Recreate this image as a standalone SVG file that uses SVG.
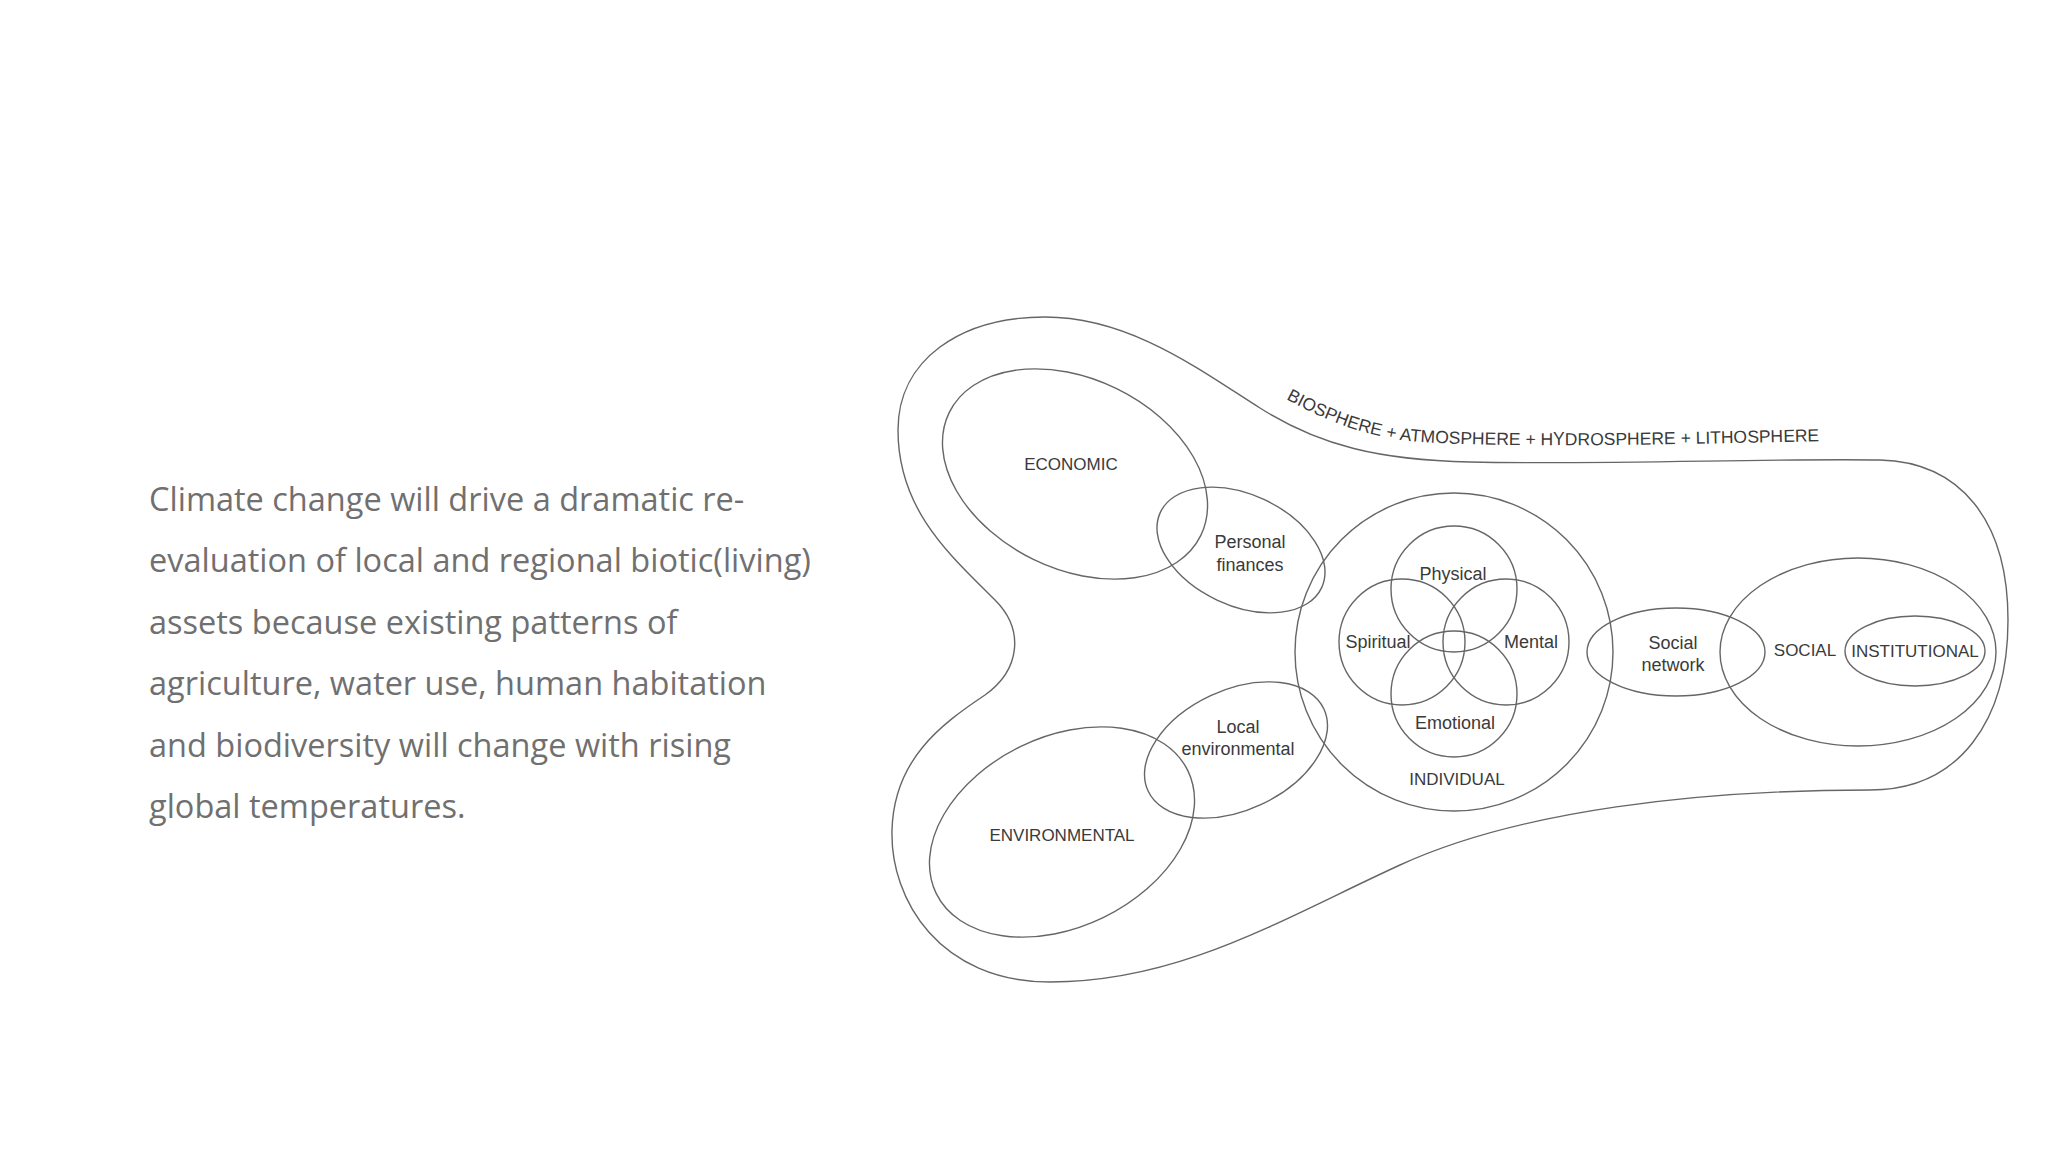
<svg xmlns="http://www.w3.org/2000/svg" width="2048" height="1152" viewBox="0 0 2048 1152">
<defs>
<style>
.para{font-family:"Open Sans","Noto Sans",sans-serif;font-size:32.5px;fill:#707070}
.ln{fill:none;stroke:#666;stroke-width:1.4}
.cap{font-family:"Liberation Sans",Arial,sans-serif;font-size:17px;fill:#3a3a3a;text-anchor:middle}
.bio{font-family:"Liberation Sans",Arial,sans-serif;font-size:17.5px;fill:#3a3a3a}
.lc{font-family:"Liberation Sans",Arial,sans-serif;font-size:18px;fill:#3a3a3a;text-anchor:middle}
</style>
<path id="bioPath" d="M 1286 399 C 1320 417, 1360 437, 1420 442 C 1500 447, 1620 446, 1830 441"/>
</defs>
<rect width="2048" height="1152" fill="#fff"/>
<g id="paragraph" class="para">
<text x="149" y="511">Climate change will drive a dramatic re-</text>
<text x="149" y="572">evaluation of local and regional biotic(living)</text>
<text x="149" y="634">assets because existing patterns of</text>
<text x="149" y="695">agriculture, water use, human habitation</text>
<text x="149" y="757">and biodiversity will change with rising</text>
<text x="149" y="818">global temperatures.</text>
</g>
<g id="biosphere">
<path class="ln" d="M 1045 317 C 1130 317, 1200 370, 1260 408 C 1320 446, 1380 460, 1470 462 C 1600 465, 1780 458, 1880 460 C 1960 462, 2008 520, 2008 620 C 2008 720, 1960 790, 1870 790 C 1700 790, 1520 810, 1400 865 C 1280 920, 1180 982, 1050 982 C 940 982, 890 900, 892 830 C 894 760, 940 725, 985 695 C 1020 670, 1025 630, 995 600 C 950 555, 898 510, 898 430 C 898 360, 960 317, 1045 317 Z"/>
<text class="bio"><textPath href="#bioPath">BIOSPHERE + ATMOSPHERE + HYDROSPHERE + LITHOSPHERE</textPath></text>
</g>
<g id="economic">
<ellipse class="ln" cx="1075" cy="474" rx="140" ry="95" transform="rotate(26 1075 474)"/>
<text class="cap" x="1071" y="470">ECONOMIC</text>
</g>
<g id="personal-finances">
<ellipse class="ln" cx="1241" cy="550" rx="89" ry="55.5" transform="rotate(25 1241 550)"/>
<text class="lc" x="1250" y="548">Personal</text>
<text class="lc" x="1250" y="571">finances</text>
</g>
<g id="environmental">
<ellipse class="ln" cx="1062" cy="832" rx="140" ry="95" transform="rotate(-26 1062 832)"/>
<text class="cap" x="1062" y="841">ENVIRONMENTAL</text>
</g>
<g id="local-environmental">
<ellipse class="ln" cx="1236" cy="750" rx="97" ry="60" transform="rotate(-25 1236 750)"/>
<text class="lc" x="1238" y="733">Local</text>
<text class="lc" x="1238" y="755">environmental</text>
</g>
<g id="individual">
<circle class="ln" cx="1454" cy="652" r="159"/>
<text class="cap" x="1457" y="785">INDIVIDUAL</text>
</g>
<g id="physical">
<circle class="ln" cx="1454" cy="589" r="63"/>
<text class="lc" x="1453" y="580">Physical</text>
</g>
<g id="spiritual">
<circle class="ln" cx="1402" cy="642" r="63"/>
<text class="lc" x="1378" y="648">Spiritual</text>
</g>
<g id="mental">
<circle class="ln" cx="1506" cy="642" r="63"/>
<text class="lc" x="1531" y="648">Mental</text>
</g>
<g id="emotional">
<circle class="ln" cx="1454" cy="694" r="63"/>
<text class="lc" x="1455" y="729">Emotional</text>
</g>
<g id="social-network">
<ellipse class="ln" cx="1676" cy="652" rx="89" ry="44"/>
<text class="lc" x="1673" y="649">Social</text>
<text class="lc" x="1673" y="671">network</text>
</g>
<g id="social">
<ellipse class="ln" cx="1858" cy="652" rx="138" ry="94"/>
<text class="cap" x="1805" y="656">SOCIAL</text>
</g>
<g id="institutional">
<ellipse class="ln" cx="1915" cy="651" rx="70" ry="35"/>
<text class="cap" x="1915" y="657">INSTITUTIONAL</text>
</g>
<g id="connectors"/>
</svg>
